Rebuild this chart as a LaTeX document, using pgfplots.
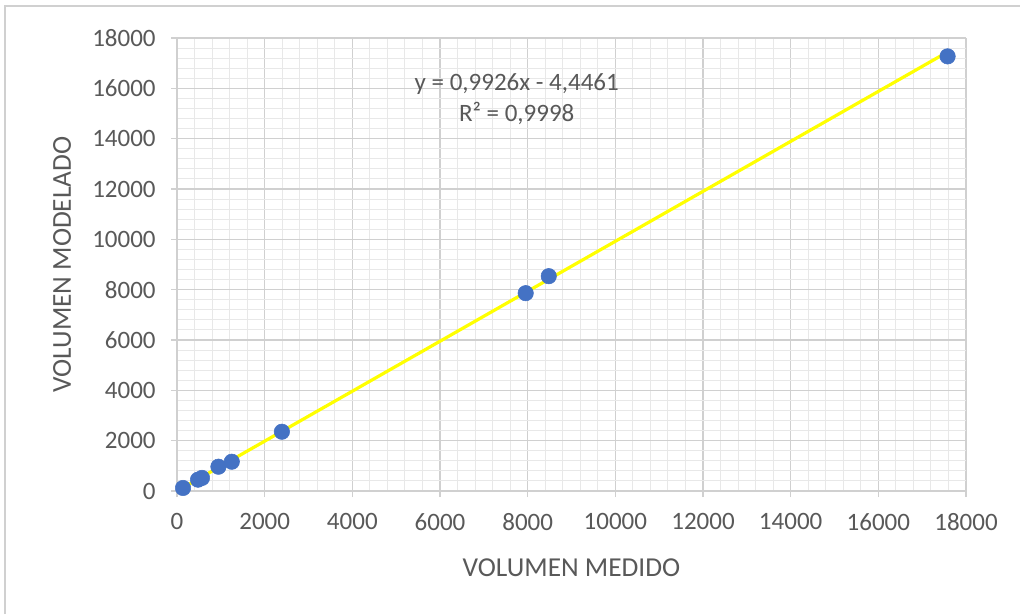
\documentclass[border=0pt]{standalone}
\usepackage{pgfplots}
\pgfplotsset{compat=1.18}
\usepackage{fontspec}
\setmainfont{Carlito}
\definecolor{txt}{HTML}{595959}
\definecolor{majg}{HTML}{D0D0D0}
\definecolor{ming}{HTML}{E8E8E8}
\definecolor{ptblue}{HTML}{4472C4}
\definecolor{yel}{HTML}{FFFF00}
\begin{document}
\begin{tikzpicture}[x=0.75pt,y=0.75pt]
\useasboundingbox (0,0) rectangle (1020,614);
\fill[white] (0,0) rectangle (1020,614);
\draw[majg,line width=1.2pt] (5,0) -- (5,608) -- (1020,608);
\begin{axis}[
  at={(132.75pt,92.25pt)}, anchor=origin,
  scale only axis, width=591.75pt, height=339.75pt,
  xmin=0, xmax=18000, ymin=0, ymax=18000,
  xtick distance=2000, ytick distance=2000,
  minor tick num=4,
  grid=both,
  major grid style={majg, line width=1.1pt},
  minor grid style={ming, line width=0.75pt},
  axis line style={draw=none},
  axis x line*=bottom, axis y line*=left,
  tick style={majg, line width=1.1pt},
  major tick length=4.5pt, minor tick length=0pt,
  tick align=outside,
  /pgf/number format/assume math mode=true,
  /pgf/number format/set thousands separator={},
  scaled ticks=false,
  ticklabel style={font=\fontsize{18.75}{22}\selectfont, text=txt},
  xticklabel style={yshift=-9pt},
  yticklabel style={xshift=-8pt},
  xlabel={VOLUMEN MEDIDO},
  ylabel={VOLUMEN MODELADO},
  label style={font=\fontsize{20.5}{24}\selectfont, text=txt},
  xlabel style={yshift=-14pt},
  ylabel style={yshift=9pt},
  clip=false,
]
\addplot[majg, line width=1.4pt, forget plot] coordinates {(0,0) (18000,0)};
\addplot[majg, line width=1.4pt, forget plot] coordinates {(0,0) (0,18000)};
\addplot[yel, line width=2.4pt] coordinates {(137,131.5) (17580,17445.5)};
\addplot[only marks, mark=*, mark size=5.8pt, mark options={fill=ptblue, draw=ptblue}] coordinates {
(137,120) (480,450) (570,520) (945,965) (1250,1163) (2393,2355) (7955,7861) (8481,8536) (17580,17270)};
\node[text=txt, font=\fontsize{18.75}{22}\selectfont] at (axis cs:7750,16160) {y = 0,9926x - 4,4461};
\node[text=txt, font=\fontsize{18.75}{22}\selectfont] at (axis cs:7750,15000) {R² = 0,9998};
\end{axis}
\end{tikzpicture}
\end{document}
